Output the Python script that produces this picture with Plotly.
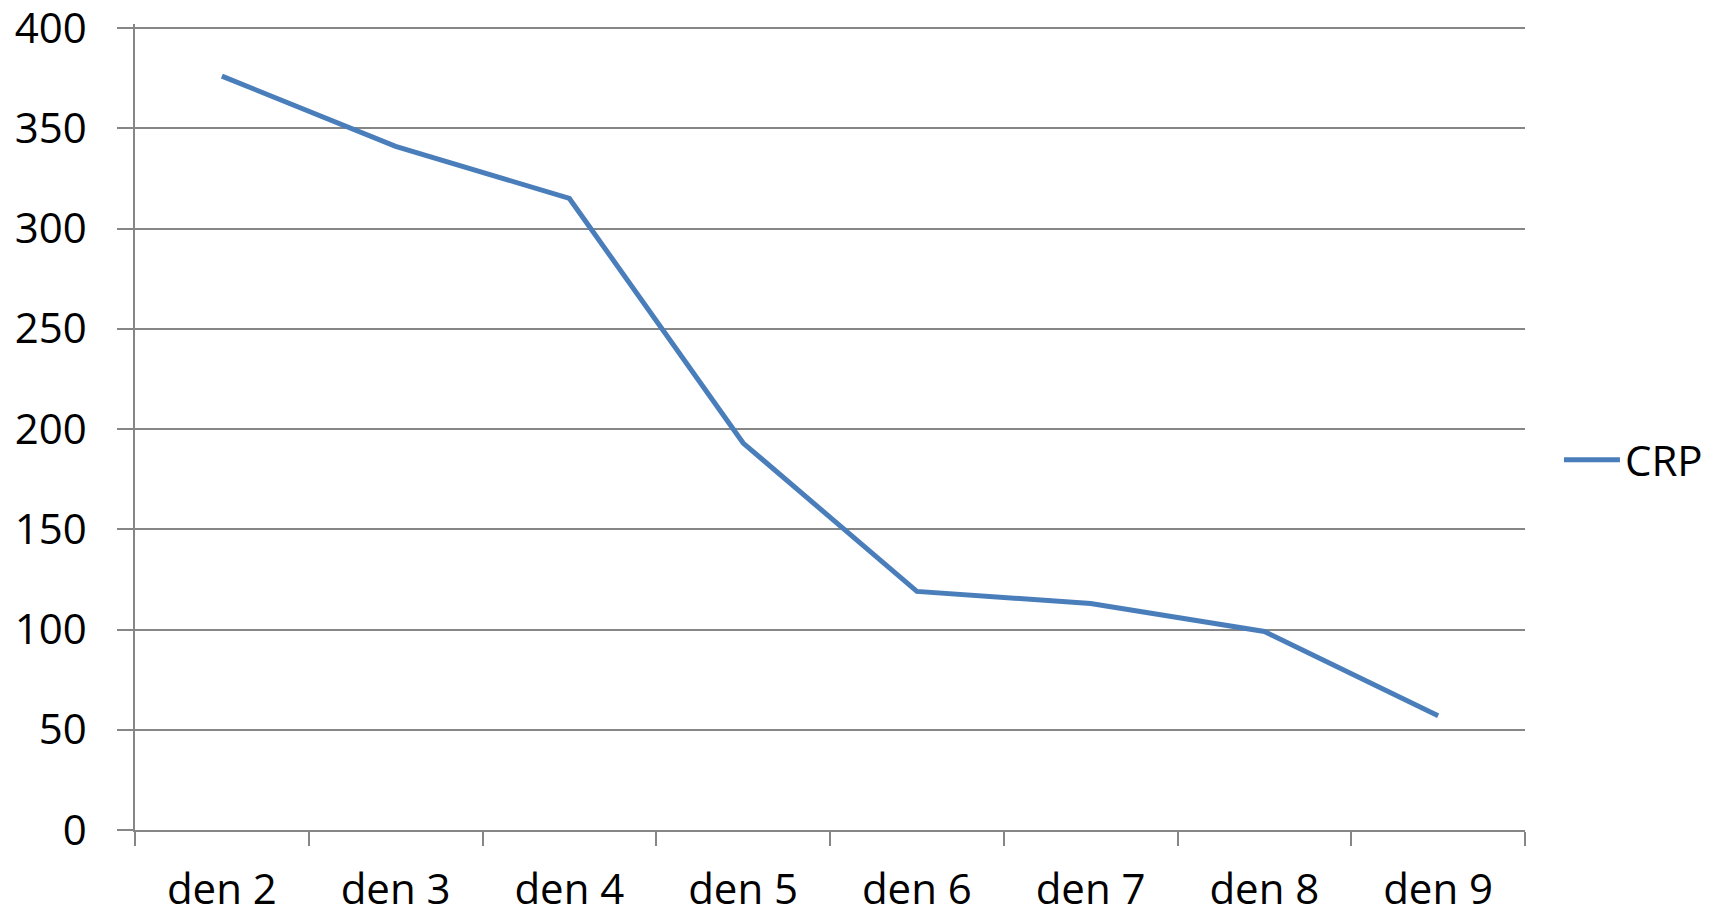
import plotly.graph_objects as go

categories = ["den 2", "den 3", "den 4", "den 5", "den 6", "den 7", "den 8", "den 9"]
crp_values = [376, 341, 315, 193, 119, 113, 99, 57]
y_ticks = [0, 50, 100, 150, 200, 250, 300, 350, 400]

grey = "#868686"
font_family = "Open Sans, Liberation Sans, Arial, sans-serif"

fig = go.Figure()
fig.add_trace(go.Scatter(
    x=categories, y=crp_values, mode="lines", name="CRP",
    line=dict(color="#4A7EBB", width=5),
))

fig.update_layout(
    width=1711, height=914,
    margin=dict(l=127, r=193, t=16, b=92),
    paper_bgcolor="white", plot_bgcolor="white",
    font=dict(family=font_family, size=42, color="#000000"),
    showlegend=True,
    legend=dict(x=1.0237, y=0.459, xanchor="left", yanchor="middle",
                font=dict(size=42), itemwidth=56, bgcolor="rgba(0,0,0,0)"),
    xaxis=dict(
        type="category", range=[-0.5, 7.5], tickson="boundaries",
        ticks="outside", ticklen=14, tickcolor=grey, tickwidth=1.5,
        showline=True, linecolor=grey, linewidth=1.5,
        showgrid=False, zeroline=False, ticklabelstandoff=22,
        automargin=False,
    ),
    yaxis=dict(
        range=[0, 402], tickvals=y_ticks,
        ticks="outside", ticklen=16, tickcolor=grey, tickwidth=1.5,
        showline=True, linecolor=grey, linewidth=1.5,
        showgrid=True, gridcolor=grey, gridwidth=1.5,
        zeroline=False, ticklabelstandoff=22, automargin=False,
        ticklabeloverflow="allow",
    ),
)

fig.write_html("out.html")
